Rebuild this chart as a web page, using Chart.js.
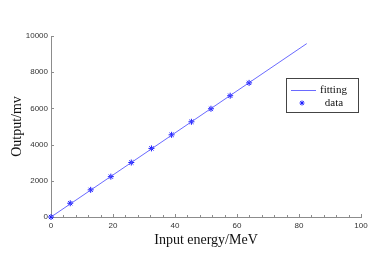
<!DOCTYPE html>
<html>
<head>
<meta charset="utf-8">
<script src="https://cdn.jsdelivr.net/npm/chart.js@4/dist/chart.umd.min.js"></script>
<style>
  html, body { margin: 0; padding: 0; background: #fff; }
  #wrap { width: 382px; height: 269px; }
</style>
</head>
<body>
<div id="wrap"><canvas id="app-canvas"></canvas></div>
<script>
// measured points (Input energy / MeV , Output / mv)
var energyData = [0, 6.2, 12.8, 19.3, 25.9, 32.4, 38.9, 45.3, 51.6, 57.8, 63.9];
var outputData = [0, 760, 1500, 2230, 3010, 3790, 4540, 5260, 5980, 6700, 7410];

// fitted line end points
var fitX = [0, 82.5];
var fitY = [0, 9580];

// axis ticks
var xTicks = [0, 20, 40, 60, 80, 100];
var xMinorStep = 4;
var yTicks = [0, 2000, 4000, 6000, 8000, 10000];

var axisGrey = "#8c8c8c";
var lineBlue = "rgba(90, 90, 255, 0.9)";
var markBlue = "#1a1aff";

function toPoints(xs, ys) {
  var pts = [];
  for (var i = 0; i < xs.length; i++) {
    pts.push({ x: xs[i], y: ys[i] });
  }
  return pts;
}

// ticks drawn inside the plot, like the original figure
var innerTicks = {
  id: "innerTicks",
  beforeDatasetsDraw: function(chart) {
    var ctx = chart.ctx;
    var xs = chart.scales.x;
    var ys = chart.scales.y;
    var area = chart.chartArea;
    ctx.save();
    ctx.strokeStyle = axisGrey;
    ctx.lineWidth = 1;
    ctx.beginPath();
    for (var v = xTicks[0]; v <= xTicks[xTicks.length - 1]; v += xMinorStep) {
      var px = Math.round(xs.getPixelForValue(v)) + 0.5;
      var len = xTicks.indexOf(v) >= 0 ? 3 : 2;
      ctx.moveTo(px, area.bottom);
      ctx.lineTo(px, area.bottom - len);
    }
    yTicks.forEach(function(v) {
      var py = Math.round(ys.getPixelForValue(v)) + 0.5;
      ctx.moveTo(area.left, py);
      ctx.lineTo(area.left + 3, py);
    });
    ctx.stroke();
    ctx.restore();
  }
};

// boxed legend inside the plot
var boxLegend = {
  id: "boxLegend",
  afterDraw: function(chart) {
    var ctx = chart.ctx;
    var bx = 286, by = 78, bw = 72, bh = 34;
    ctx.save();
    ctx.fillStyle = "#fff";
    ctx.fillRect(bx, by, bw, bh);
    ctx.strokeStyle = "#444";
    ctx.lineWidth = 1;
    ctx.strokeRect(bx + 0.5, by + 0.5, bw, bh);

    ctx.strokeStyle = lineBlue;
    ctx.beginPath();
    ctx.moveTo(bx + 5, by + 12.5);
    ctx.lineTo(bx + 30, by + 12.5);
    ctx.stroke();

    // star marker
    var cx = bx + 16, cy = by + 25, r = 2.5;
    ctx.strokeStyle = markBlue;
    ctx.lineWidth = 1;
    ctx.beginPath();
    for (var k = 0; k < 4; k++) {
      var a = k * Math.PI / 4;
      ctx.moveTo(cx - r * Math.cos(a), cy - r * Math.sin(a));
      ctx.lineTo(cx + r * Math.cos(a), cy + r * Math.sin(a));
    }
    ctx.stroke();

    ctx.fillStyle = "#111";
    ctx.font = "11px 'Liberation Serif'";
    ctx.textBaseline = "middle";
    ctx.textAlign = "left";
    ctx.fillText("fitting", bx + 34, by + 12);
    ctx.textAlign = "center";
    ctx.fillText("data", bx + 48, by + 25);
    ctx.restore();
  }
};

var ctx = document.getElementById("app-canvas");
var myChart = new Chart(ctx, {
  type: "scatter",
  data: {
    datasets: [
      {
        label: "fitting",
        data: toPoints(fitX, fitY),
        showLine: true,
        borderColor: lineBlue,
        borderWidth: 1,
        pointRadius: 0,
        fill: false
      },
      {
        label: "data",
        data: toPoints(energyData, outputData),
        showLine: false,
        clip: false,
        pointStyle: "star",
        pointRadius: 3,
        borderColor: markBlue,
        backgroundColor: markBlue,
        borderWidth: 1
      }
    ]
  },
  options: {
    responsive: true,
    maintainAspectRatio: false,
    animation: false,
    layout: { padding: { top: 36, right: 21, bottom: 0, left: 0 } },
    plugins: {
      legend: { display: false },
      tooltip: { enabled: false }
    },
    scales: {
      x: {
        type: "linear",
        min: 0,
        max: 100,
        afterFit: function(scale) { scale.height = 52; },
        afterBuildTicks: function(scale) {
          scale.ticks = xTicks.map(function(v) { return { value: v }; });
        },
        grid: { display: true, drawOnChartArea: false, drawTicks: false },
        border: { display: true, color: axisGrey, width: 1 },
        ticks: {
          padding: 4,
          color: "#333",
          font: { family: "'Liberation Sans'", size: 8 },
          maxRotation: 0,
          callback: function(v) { return String(v); }
        },
        title: {
          display: true,
          text: "Input energy/MeV",
          color: "#111",
          font: { family: "'Liberation Serif'", size: 14 },
          padding: { top: 0, bottom: 20 }
        }
      },
      y: {
        type: "linear",
        min: 0,
        max: 10000,
        afterFit: function(scale) { scale.width = 51; },
        afterBuildTicks: function(scale) {
          scale.ticks = yTicks.map(function(v) { return { value: v }; });
        },
        grid: { display: true, drawOnChartArea: false, drawTicks: false },
        border: { display: true, color: axisGrey, width: 1 },
        ticks: {
          padding: 3,
          color: "#333",
          font: { family: "'Liberation Sans'", size: 8 },
          callback: function(v) { return String(v); }
        },
        title: {
          display: true,
          text: "Output/mv",
          color: "#111",
          font: { family: "'Liberation Serif'", size: 14 },
          padding: { top: 9, bottom: 0 }
        }
      }
    }
  },
  plugins: [innerTicks, boxLegend]
});
</script>
</body>
</html>
